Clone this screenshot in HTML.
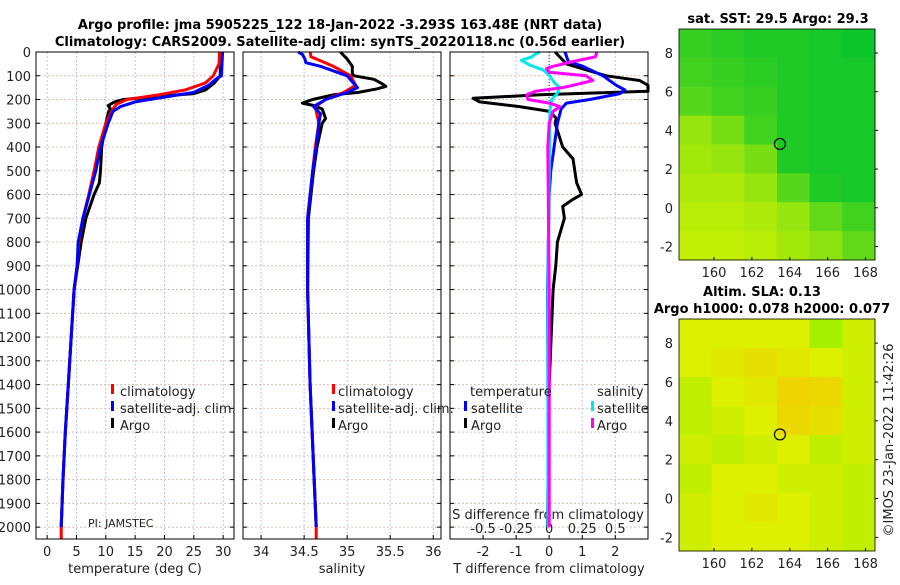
<!DOCTYPE html>
<html><head><meta charset="utf-8"><style>
html,body{margin:0;padding:0;background:#fff;}
svg text{font-family:"DejaVu Sans","Liberation Sans",sans-serif;}
</style></head><body>
<svg id="s" width="900" height="580" viewBox="0 0 900 580" xmlns="http://www.w3.org/2000/svg">
<text x="340" y="29" text-anchor="middle" font-size="13" font-weight="bold">Argo profile: jma 5905225_122 18-Jan-2022 -3.293S 163.48E (NRT data)</text>
<text x="340" y="46" text-anchor="middle" font-size="13" font-weight="bold">Climatology: CARS2009. Satellite-adj clim: synTS_20220118.nc (0.56d earlier)</text>
<g id="g"></g>
</svg>
<script>
// ---------- data ----------
const depthTicks=[0,100,200,300,400,500,600,700,800,900,1000,1100,1200,1300,1400,1500,1600,1700,1800,1900,2000];
const tempTicks=[0,5,10,15,20,25,30];
const salTicks=[34,34.5,35,35.5,36];
const tdiffTicks=[-2,-1,0,1,2];
const sdiffTicks=[-0.5,-0.25,0,0.25,0.5];
const sdiffTickLabels=["-0.5","-0.25","0","0.25","0.5"];
const tClimD=[0,50,100,130,160,180,200,220,240,300,400,500,600,700,800,900,1000,1200,1400,1600,1800,2000,2050];
const tClimV=[29.4,29.3,28.3,27,23.5,19,13.6,11.8,11.2,10.0,8.8,8.0,7.1,6.1,5.4,5.1,4.6,4.1,3.6,3.1,2.7,2.4,2.4];
const tSatD=[0,100,110,140,170,190,210,230,250,300,400,500,600,700,800,900,1000,1200,1400,1600,1800,2000];
const tSatV=[29.9,29.7,29.0,27.5,25,20,15,12.5,11.2,10.4,9.1,8.3,7.2,6.1,5.3,5.1,4.6,4.1,3.6,3.1,2.7,2.4];
const tArgoD=[0,100,130,160,175,185,200,210,225,240,250,300,400,500,550,600,700,800,900,1000,1200,1400,1600,1800,2000];
const tArgoV=[29.6,29.5,28.5,27.0,25,20,13,11.5,10.4,10.8,10.5,10.0,9.3,9.1,8.9,8.0,6.6,5.8,5.2,4.6,4.1,3.6,3.1,2.7,2.4];
const sClimD=[0,20,60,100,140,170,200,230,300,400,500,700,1000,1400,2000,2050];
const sClimV=[34.57,34.58,34.84,35.04,35.1,34.96,34.75,34.63,34.67,34.63,34.6,34.54,34.54,34.57,34.64,34.64];
const sSatD=[0,10,30,45,60,100,130,150,170,200,230,260,300,400,500,700,1000,1400,2000];
const sSatV=[34.43,34.48,34.51,34.52,34.69,35.0,35.07,35.12,35.0,34.75,34.61,34.69,34.67,34.64,34.6,34.54,34.54,34.57,34.64];
const sArgoD=[0,30,60,90,100,115,130,145,155,170,180,200,215,225,240,280,300,400,500,700,1000,1400,2000];
const sArgoV=[34.92,35.0,35.06,35.06,35.08,35.31,35.39,35.45,35.35,35.13,34.84,34.6,34.48,34.61,34.71,34.75,34.71,34.65,34.61,34.55,34.54,34.57,34.64];
const dtArgoD=[0,50,80,100,120,140,165,180,195,210,230,250,280,300,400,450,550,600,620,650,700,800,900,1000,1400,2000];
const dtArgoV=[0.18,0.52,1.23,1.73,2.74,3.1,3.1,-0.28,-2.3,-2.1,-0.9,0.02,0.22,0.18,0.41,0.72,0.83,0.98,0.72,0.41,0.46,0.25,0.2,0.12,0.0,-0.05];
const dtSatD=[0,40,60,100,140,160,175,200,215,240,300,400,500,600,1000,2000];
const dtSatV=[0.48,0.58,1.02,1.63,2.03,2.29,2.14,1.23,0.52,0.36,0.25,0.15,0.05,0.0,-0.05,-0.02];
const dsSatD=[0,10,20,35,55,75,100,130,150,175,200,250,300,1000,2000];
const dsSatV=[-0.07,-0.108,-0.13,-0.21,-0.146,-0.047,0.005,0.04,0.08,0.06,0.02,0.005,0.005,-0.01,-0.01];
const dsArgoD=[0,20,40,60,70,85,100,120,140,150,165,180,200,215,230,250,300,400,1000,2000];
const dsArgoV=[0.36,0.35,0.18,0.03,-0.02,0.0,0.28,0.33,0.18,0.1,-0.1,-0.17,-0.16,0.0,0.08,0.03,0.0,-0.01,0.0,0.0];
const lonTicks=[160,162,164,166,168];
const latTicks=[-2,0,2,4,6,8];
const sstGrid=[[0.75,0.8,0.85,0.85,0.9,0.95],[0.7,0.75,0.8,0.85,0.9,0.9],[0.6,0.7,0.75,0.85,0.9,0.9],[0.3,0.45,0.7,0.85,0.9,0.9],[0.25,0.3,0.45,0.85,0.9,0.9],[0.2,0.2,0.3,0.6,0.85,0.9],[0.15,0.15,0.2,0.3,0.55,0.7],[0.1,0.1,0.15,0.25,0.35,0.55]];
const slaGrid=[[0.5,0.5,0.5,0.5,0.1,0.4],[0.5,0.6,0.7,0.6,0.5,0.4],[0.3,0.5,0.6,0.85,0.8,0.4],[0.3,0.4,0.5,0.8,0.7,0.4],[0.4,0.3,0.4,0.5,0.3,0.4],[0.3,0.5,0.5,0.4,0.4,0.3],[0.4,0.5,0.6,0.5,0.4,0.3],[0.4,0.5,0.5,0.5,0.4,0.3]];
const argoLon=163.48, argoLat=3.3;

// ---------- helpers ----------
const NS="http://www.w3.org/2000/svg", G=document.getElementById('g');
function mk(t,a,p){const e=document.createElementNS(NS,t);for(const k in a)e.setAttribute(k,a[k]);(p||G).appendChild(e);return e;}
const Y0=52, Y1=539, DMAX=2050;
const yD=d=>Y0+d*(Y1-Y0)/DMAX;
const panels=[{x0:36,x1:234,min:-1.9,max:31.85},{x0:243,x1:441,min:33.79,max:36.09},{x0:450,x1:648,min:-3.0,max:2.99}];
const xs=(p,v)=>p.x0+(v-p.min)*(p.x1-p.x0)/(p.max-p.min);
function grid(p,ticks,name){
  ticks.forEach(t=>{const x=xs(p,t);
    const l=mk('line',{x1:x,x2:x,y1:Y0,y2:Y1,stroke:'#b8c4e8','stroke-width':1,'stroke-dasharray':'2,2'});
    
    const tk=mk('line',{x1:x,x2:x,y1:Y1,y2:Y1-4,stroke:'#000'});});
  depthTicks.forEach(d=>{const y=yD(d);
    const l=mk('line',{x1:p.x0,x2:p.x1,y1:y,y2:y,stroke:'#d8c0b0','stroke-width':1,'stroke-dasharray':'2,2'});
    
    const tk=mk('line',{x1:p.x0,x2:p.x0+4,y1:y,y2:y,stroke:'#000'});
    const tk2=mk('line',{x1:p.x1,x2:p.x1-4,y1:y,y2:y,stroke:'#000'});});
}
function frame(p,name){const r=mk('rect',{x:p.x0,y:Y0,width:p.x1-p.x0,height:Y1-Y0,fill:'none',stroke:'#000','stroke-width':1});
  }
function line(p,D,V,col,name,scale){const pts=D.map((d,i)=>{let x=xs(p,V[i]*(scale||1));x=Math.max(p.x0,Math.min(p.x1,x));return x.toFixed(1)+','+yD(d).toFixed(1);}).join(' ');
  const e=mk('polyline',{points:pts,fill:'none',stroke:col,'stroke-width':3,'stroke-linejoin':'round'});
  }
function txt(x,y,s,a,name,extra){const e=mk('text',Object.assign({x:x,y:y,'font-size':13,'text-anchor':a||'start',fill:'#222'},extra||{}));e.textContent=s;
  return e;}
function legBar(x,y,col,name){const e=mk('rect',{x:x,y:y-11,width:3,height:10,fill:col});}

// ---------- panels ----------
const P=panels;
grid(P[0],tempTicks,'temp');grid(P[1],salTicks,'sal');grid(P[2],tdiffTicks,'diff');
depthTicks.forEach(d=>txt(31,yD(d)+5,String(d),'end','depth-tick-label'));
tempTicks.forEach(t=>txt(xs(P[0],t),556,String(t),'middle','temp-tick-label'));
salTicks.forEach(t=>txt(xs(P[1],t),556,String(t),'middle','sal-tick-label'));
tdiffTicks.forEach(t=>txt(xs(P[2],t),556,String(t),'middle','tdiff-tick-label'));
sdiffTicks.forEach((t,i)=>txt(xs(P[2],t*4),533,sdiffTickLabels[i],'middle','sdiff-tick-label'));
txt(135,573,'temperature (deg C)','middle','temp-axis-title');
txt(342,573,'salinity','middle','sal-axis-title');
txt(549,573,'T difference from climatology','middle','tdiff-axis-title');
txt(548,519,'S difference from climatology','middle','sdiff-axis-title');
txt(88,527,'PI: JAMSTEC','start','pi-label',{'font-size':11});
{const x=xs(P[2],0);const e=mk('line',{x1:x,x2:x,y1:Y0,y2:yD(250),stroke:'#333','stroke-dasharray':'1,2'});}
line(P[0],tArgoD,tArgoV,'#000','temp-argo-line');
line(P[0],tClimD,tClimV,'#ff0000','temp-climatology-line');
line(P[0],tSatD,tSatV,'#0000ff','temp-satellite-line');
line(P[1],sArgoD,sArgoV,'#000','sal-argo-line');
line(P[1],sClimD,sClimV,'#ff0000','sal-climatology-line');
line(P[1],sSatD,sSatV,'#0000ff','sal-satellite-line');
line(P[2],dtArgoD,dtArgoV,'#000','tdiff-argo-line');
line(P[2],dtSatD,dtSatV,'#0000ff','tdiff-satellite-line');
line(P[2],dsSatD,dsSatV,'#00e8e8','sdiff-satellite-line',4);
line(P[2],dsArgoD,dsArgoV,'#ff00ff','sdiff-argo-line',4);
frame(P[0],'temp-panel');frame(P[1],'sal-panel');frame(P[2],'diff-panel');
[[111,120],[332,338]].forEach(([bx,tx],k)=>{
  legBar(bx,395,'#ff0000','legend-climatology-swatch');txt(tx,396,'climatology','start','legend-climatology');
  legBar(bx,412,'#0000ff','legend-satellite-swatch');txt(tx,413,'satellite-adj. clim.','start','legend-satellite');
  legBar(bx,429,'#000','legend-argo-swatch');txt(tx,430,'Argo','start','legend-argo');});
txt(470,396,'temperature','start','legend-temperature-header');
txt(597,396,'salinity','start','legend-salinity-header');
legBar(464,412,'#0000ff','legend-t-satellite-swatch');txt(471,413,'satellite','start','legend-t-satellite');
legBar(464,429,'#000','legend-t-argo-swatch');txt(471,430,'Argo','start','legend-t-argo');
legBar(591,412,'#00e8e8','legend-s-satellite-swatch');txt(597,413,'satellite','start','legend-s-satellite');
legBar(591,429,'#ff00ff','legend-s-argo-swatch');txt(597,430,'Argo','start','legend-s-argo');

// ---------- maps ----------
function lerpC(a,b,t){return 'rgb('+a.map((v,i)=>Math.round(v+(b[i]-v)*t)).join(',')+')';}
function cmap3(v,c0,c1,c2){return v<0.5?lerpC(c0,c1,v*2):lerpC(c1,c2,(v-0.5)*2);}
function map(y0,y1,gridV,colf,name){
  const m={x0:679,x1:875,y0:y0,y1:y1,lon0:158.15,lon1:168.5,lat0:9.24,lat1:-2.7};
  const xl=l=>m.x0+(l-m.lon0)*(m.x1-m.x0)/(m.lon1-m.lon0);
  const yl=l=>m.y0+(l-m.lat0)*(m.y1-m.y0)/(m.lat1-m.lat0);
  const R=gridV.length,C=gridV[0].length,cw=(m.x1-m.x0)/C,ch=(m.y1-m.y0)/R;
  gridV.forEach((row,r)=>row.forEach((v,c)=>{const e=mk('rect',{x:m.x0+c*cw,y:m.y0+r*ch,width:cw+0.5,height:ch+0.5,fill:colf(v)});
    }));
  const f=mk('rect',{x:m.x0,y:m.y0,width:m.x1-m.x0,height:m.y1-m.y0,fill:'none',stroke:'#000','stroke-width':0.8});
  
  lonTicks.forEach(l=>{txt(xl(l),m.y1+17,String(l),'middle',name+'-lon-label');
    const t=mk('line',{x1:xl(l),x2:xl(l),y1:m.y1,y2:m.y1-3,stroke:'#000'});});
  latTicks.forEach(l=>{txt(m.x0-6,yl(l)+5,String(l),'end',name+'-lat-label');
    const t=mk('line',{x1:m.x1,x2:m.x1+3,y1:yl(l),y2:yl(l),stroke:'#000'});});
  const c=mk('circle',{cx:xl(argoLon),cy:yl(argoLat),r:5.5,fill:'none',stroke:'#000','stroke-width':1.2});
  
}
map(29,260,sstGrid,v=>lerpC([216,244,0],[0,195,45],v),'sst-map');
map(319,551,slaGrid,v=>cmap3(v,[150,240,0],[220,240,0],[245,200,0]),'sla-map');
txt(778,23,'sat. SST: 29.5 Argo: 29.3','middle','sst-map-title',{'font-weight':'bold','fill':'#000'});
txt(762,296,'Altim. SLA: 0.13','middle','sla-map-title',{'font-weight':'bold','fill':'#000'});
txt(772,313,'Argo h1000: 0.078 h2000: 0.077','middle','sla-map-subtitle',{'font-weight':'bold','fill':'#000'});
txt(893,440,'©IMOS 23-Jan-2022 11:42:26','middle','imos-timestamp',{transform:'rotate(-90 893 440)'});
</script>
</body></html>
